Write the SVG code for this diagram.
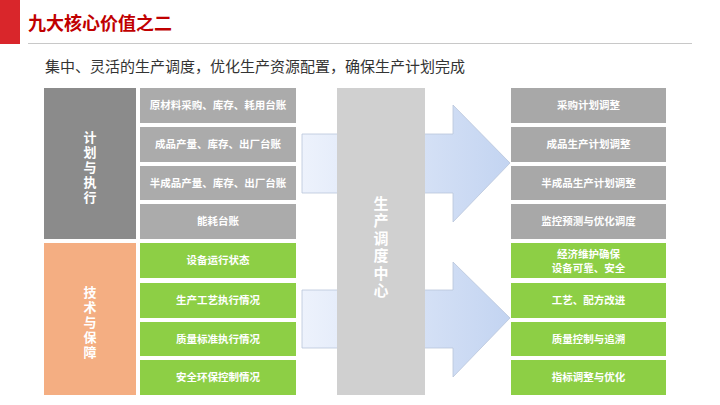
<svg xmlns="http://www.w3.org/2000/svg" width="720" height="405" viewBox="0 0 720 405">
<defs>
<linearGradient id="ag" x1="0" y1="0" x2="1" y2="0">
<stop offset="0" stop-color="#edf2fc"/>
<stop offset="1" stop-color="#c3d4f1"/>
</linearGradient>
<style>
text{font-family:"Microsoft YaHei","Noto Sans CJK SC","Noto Sans",sans-serif;}
.t{font-size:10.5px;font-weight:bold;fill:#fff;text-anchor:middle;}
.v{font-size:13px;font-weight:bold;fill:#fff;text-anchor:middle;writing-mode:vertical-rl;letter-spacing:2px;}
.g1{fill:#8b8b8b;}
.g2{fill:#ababab;}
.g3{fill:#a8a8a8;}
.gr{fill:#8dcf45;}
.or{fill:#f4ae82;}
.arr{fill:url(#ag);stroke:#b9c5da;stroke-width:0.8;}
</style>
</defs>
<rect width="720" height="405" fill="#fff"/>
<g id="header">
<rect x="0" y="0" width="20" height="44" fill="#d9262b"/>
<text x="28" y="30" font-weight="bold" fill="#c00000" style="font-size:18px">九大核心价值之二</text>
<line x1="28" y1="43.5" x2="692" y2="43.5" stroke="#c8c8c8" stroke-width="1"/>
<text x="45" y="72" fill="#333" style="font-size:15px">集中、灵活的生产调度，优化生产资源配置，确保生产计划完成</text>
</g>
<g id="connectors">
<polygon class="arr" points="302,134 453,134 453,105 510,163 453,222 453,193 302,193"/>
<polygon class="arr" points="302,290 453,290 453,262 510,318 453,377 453,348 302,348"/>
</g>
<g id="plan">
<rect class="g1" x="44" y="88" width="92" height="151"/>
<text class="v" x="90" y="168">计划与执行</text>
</g>
<g id="tech">
<rect class="or" x="44" y="243" width="92" height="152"/>
<text class="v" x="90" y="323">技术与保障</text>
</g>
<g id="in1"><rect class="g2" x="140" y="88" width="156" height="35"/><text class="t" x="218" y="109">原材料采购、库存、耗用台账</text></g>
<g id="in2"><rect class="g2" x="140" y="127" width="156" height="35"/><text class="t" x="218" y="148">成品产量、库存、出厂台账</text></g>
<g id="in3"><rect class="g2" x="140" y="166" width="156" height="34"/><text class="t" x="218" y="187">半成品产量、库存、出厂台账</text></g>
<g id="in4"><rect class="g2" x="140" y="204" width="156" height="35"/><text class="t" x="218" y="225">能耗台账</text></g>
<g id="in5"><rect class="gr" x="140" y="243" width="156" height="35"/><text class="t" x="218" y="264">设备运行状态</text></g>
<g id="in6"><rect class="gr" x="140" y="283" width="156" height="35"/><text class="t" x="218" y="304">生产工艺执行情况</text></g>
<g id="in7"><rect class="gr" x="140" y="322" width="156" height="34"/><text class="t" x="218" y="343">质量标准执行情况</text></g>
<g id="in8"><rect class="gr" x="140" y="360" width="156" height="35"/><text class="t" x="218" y="381">安全环保控制情况</text></g>
<g id="center">
<rect x="337" y="88" width="88" height="307" fill="#d0d0d0"/>
<text class="v" x="381" y="248" style="font-size:15px;letter-spacing:2.5px">生产调度中心</text>
</g>
<g id="out1"><rect class="g3" x="511" y="88" width="155" height="35"/><text class="t" x="588.5" y="109">采购计划调整</text></g>
<g id="out2"><rect class="g3" x="511" y="127" width="155" height="35"/><text class="t" x="588.5" y="148">成品生产计划调整</text></g>
<g id="out3"><rect class="g3" x="511" y="166" width="155" height="34"/><text class="t" x="588.5" y="187">半成品生产计划调整</text></g>
<g id="out4"><rect class="g3" x="511" y="204" width="155" height="35"/><text class="t" x="588.5" y="225">监控预测与优化调度</text></g>
<g id="out5"><rect class="gr" x="511" y="243" width="155" height="35"/><text class="t"><tspan x="588.5" y="258">经济维护确保</tspan><tspan x="588.5" y="272">设备可靠、安全</tspan></text></g>
<g id="out6"><rect class="gr" x="511" y="283" width="155" height="35"/><text class="t" x="588.5" y="304">工艺、配方改进</text></g>
<g id="out7"><rect class="gr" x="511" y="322" width="155" height="34"/><text class="t" x="588.5" y="343">质量控制与追溯</text></g>
<g id="out8"><rect class="gr" x="511" y="360" width="155" height="35"/><text class="t" x="588.5" y="381">指标调整与优化</text></g>
</svg>
